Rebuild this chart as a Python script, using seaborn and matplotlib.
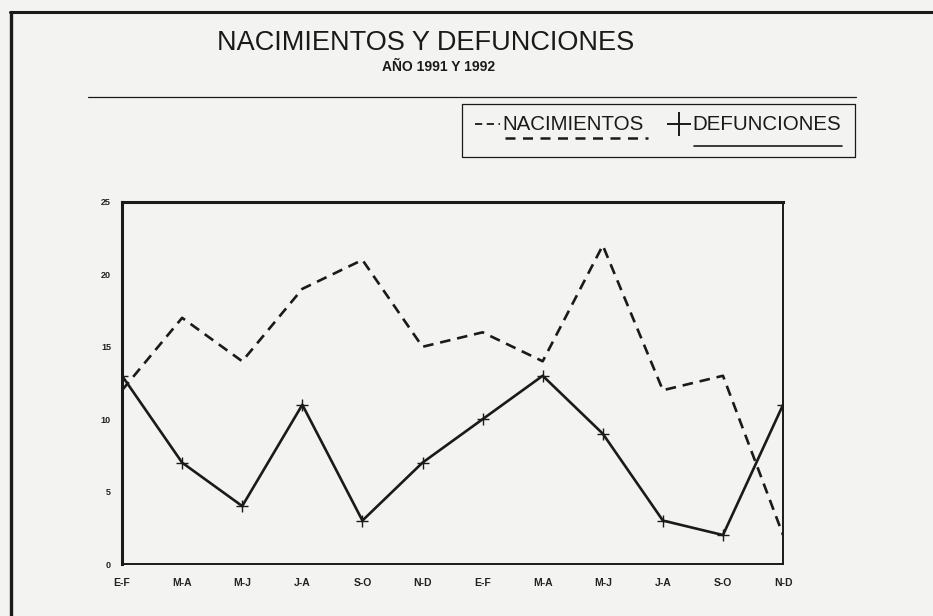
import numpy as np
import pandas as pd
import matplotlib
matplotlib.use("Agg")
import matplotlib.pyplot as plt
from matplotlib.lines import Line2D
import seaborn as sns

# datos bimestrales 1991 y 1992
periodos = ["E-F", "M-A", "M-J", "J-A", "S-O", "N-D",
            "E-F", "M-A", "M-J", "J-A", "S-O", "N-D"]
nacimientos = [12, 17, 14, 19, 21, 15, 16, 14, 22, 12, 13, 2]
defunciones = [13, 7, 4, 11, 3, 7, 10, 13, 9, 3, 2, 11]
y_ticks = [0, 5, 10, 15, 20, 25]

df = pd.DataFrame({
    "pos": np.arange(len(periodos)),
    "periodo": periodos,
    "nacimientos": nacimientos,
    "defunciones": defunciones,
})

sns.set_style("white")
plt.rcParams["font.family"] = ["Liberation Sans", "DejaVu Sans"]

negro = "#1a1a1a"
fondo = "#f3f3f1"
fig = plt.figure(figsize=(9.33, 6.16), dpi=100, facecolor=fondo)
ax = fig.add_axes([0.1308, 0.0844, 0.7085, 0.5877], facecolor=fondo)

sns.lineplot(data=df, x="pos", y="nacimientos", ax=ax, color=negro,
             linewidth=1.9, sort=False)
ax.lines[-1].set_dashes((4, 2.6))
sns.lineplot(data=df, x="pos", y="defunciones", ax=ax, color=negro,
             linewidth=1.9, marker="+", markersize=9, markeredgewidth=1.0,
             markeredgecolor=negro, sort=False)

ax.set_xlim(0, len(periodos) - 1)
ax.set_ylim(0, 25)
ax.set_xticks(df["pos"])
ax.set_xticklabels(periodos, fontsize=7.5, fontweight="bold", color="#222222")
ax.set_yticks(y_ticks)
ax.set_yticklabels([str(v) for v in y_ticks], fontsize=6.5, fontweight="bold",
                   color="#222222")
ax.tick_params(axis="x", length=0, pad=10)
ax.tick_params(axis="y", length=0, pad=8)
ax.set_xlabel("")
ax.set_ylabel("")
for lado, lw in [("top", 2.2), ("left", 2.2), ("right", 1.4), ("bottom", 1.4)]:
    ax.spines[lado].set_visible(True)
    ax.spines[lado].set_color(negro)
    ax.spines[lado].set_linewidth(lw)

# marco exterior (izquierda y arriba)
fig.add_artist(Line2D([11 / 933, 11 / 933], [0, 1 - 12 / 616],
                      transform=fig.transFigure, color=negro, lw=2.4))
fig.add_artist(Line2D([10 / 933, 1], [1 - 12 / 616, 1 - 12 / 616],
                      transform=fig.transFigure, color=negro, lw=2.2))

# titulos
fig.text(426 / 933, 1 - 43 / 616, "NACIMIENTOS Y DEFUNCIONES", ha="center",
         va="center", fontsize=19.5, color=negro)
fig.text(438 / 933, 1 - 67 / 616, "AÑO 1991 Y 1992", ha="center",
         va="center", fontsize=10, fontweight="bold", color=negro)
fig.add_artist(Line2D([88 / 933, 856 / 933], [1 - 97 / 616, 1 - 97 / 616],
                      transform=fig.transFigure, color=negro, lw=0.9))

# leyenda en recuadro
caja_x0, caja_x1 = 462 / 933, 855 / 933
caja_y0, caja_y1 = 1 - 157 / 616, 1 - 104 / 616
fig.add_artist(Line2D([caja_x0, caja_x1, caja_x1, caja_x0, caja_x0],
                      [caja_y1, caja_y1, caja_y0, caja_y0, caja_y1],
                      transform=fig.transFigure, color=negro, lw=0.9))
ty = 1 - 124 / 616
fig.add_artist(Line2D([475 / 933, 500 / 933], [ty, ty], transform=fig.transFigure,
                      color=negro, lw=1.3, dashes=(4, 2.5)))
fig.text(502 / 933, ty, "NACIMIENTOS", ha="left", va="center", fontsize=14.8,
         color=negro)
fig.add_artist(Line2D([679 / 933], [ty], transform=fig.transFigure,
                      color=negro, marker="+", markersize=17,
                      markeredgewidth=1.4, linestyle="none"))
fig.text(692 / 933, ty, "DEFUNCIONES", ha="left", va="center", fontsize=14.8,
         color=negro)
fig.add_artist(Line2D([505 / 933, 648 / 933], [1 - 138 / 616, 1 - 138 / 616],
                      transform=fig.transFigure, color=negro, lw=1.8,
                      dashes=(4, 3)))
fig.add_artist(Line2D([694 / 933, 842 / 933], [1 - 146 / 616, 1 - 146 / 616],
                      transform=fig.transFigure, color=negro, lw=1.2))

fig.savefig("out.png", dpi=100, facecolor=fondo)
